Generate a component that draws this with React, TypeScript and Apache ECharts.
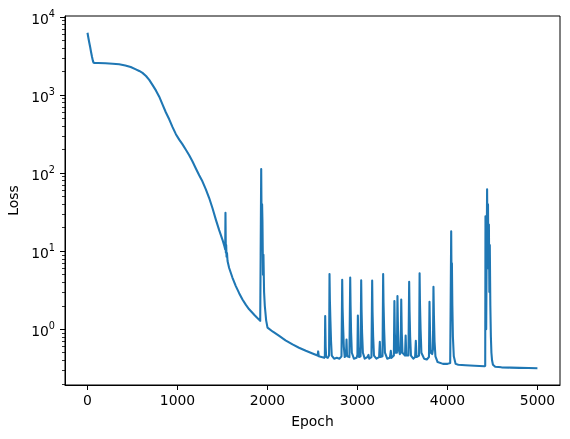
import React, { useEffect, useRef } from 'react';
import * as echarts from 'echarts';

// Loss curve, smooth descent phase (epoch / loss)
const descentEpochs = [
  0, 10, 20, 30, 40, 50, 60, 67, 80, 120, 200, 280, 352, 420, 480, 537, 575, 611, 650, 686,
  720, 760, 797, 833, 870, 908, 945, 982, 1019, 1056, 1093, 1130, 1167, 1204, 1241, 1278, 1315,
  1352, 1389, 1426, 1463, 1500, 1522, 1530, 1533, 1537, 1541, 1545, 1550, 1556, 1574, 1610,
  1648, 1685, 1722, 1760, 1796, 1860, 1919, 1930, 1935, 1940, 1944, 1950, 1955, 1962, 1970,
  1985, 2000, 2060, 2130, 2200, 2278, 2350, 2426, 2500, 2556, 2563, 2570,
];
const descentLoss = [
  6300, 5400, 4700, 4100, 3550, 3100, 2750, 2600, 2590, 2580, 2565, 2530, 2483, 2400, 2290, 2140, 2040, 1930, 1760, 1567,
  1365, 1150, 955, 760, 603, 490, 389, 316, 269, 234, 200, 170, 141, 115, 94, 78, 62,
  48, 35.5, 25.4, 18.6, 14, 11.5, 10.5, 31, 9.6, 12, 8.5, 9.5, 7.5, 6.1, 4.6,
  3.57, 2.9, 2.41, 2.05, 1.8, 1.5, 1.28, 113, 20, 40, 24, 5, 9, 3, 2,
  1.3, 1.05, 0.93, 0.82, 0.72, 0.64, 0.58, 0.53, 0.49, 0.46, 0.52, 0.45,
];

// Spiky phase
const spikeEpochs = [
  2600, 2630, 2637, 2641, 2646, 2652, 2670, 2684, 2689, 2693, 2699, 2706, 2714, 2740, 2770, 2800,
  2822, 2830, 2834, 2840, 2848, 2858, 2873, 2878, 2884, 2910, 2919, 2923, 2929, 2937, 2960, 2990,
  2999, 3004, 3010, 3018, 3034, 3041, 3045, 3051, 3060, 3080, 3110, 3122, 3130, 3155, 3163, 3167,
  3174, 3183, 3210, 3240, 3248, 3255, 3278, 3285, 3289, 3296, 3305, 3330, 3360, 3370, 3378, 3404,
  3410, 3415, 3422, 3438, 3444, 3450, 3458, 3470, 3480, 3486, 3492, 3500, 3528, 3535, 3542, 3566,
  3574, 3578, 3585, 3594, 3620, 3640, 3648, 3656, 3684, 3690, 3694, 3701, 3710, 3740, 3770, 3794,
  3800, 3806, 3814, 3830, 3838, 3844, 3849, 3856, 3866, 3890, 3950, 4000, 4030, 4041, 4045, 4049,
  4054, 4060, 4070, 4090, 4120,
];
const spikeLoss = [
  0.44, 0.43, 0.45, 1.48, 0.6, 0.44, 0.43, 0.46, 5.1, 2.4, 1.3, 0.7, 0.46, 0.42, 0.43, 0.42,
  0.45, 4.3, 1.9, 1.1, 0.6, 0.44, 0.48, 0.74, 0.45, 0.44, 4.6, 2.0, 0.9, 0.5, 0.42, 0.43,
  0.47, 1.5, 0.6, 0.44, 0.45, 4.25, 1.8, 0.9, 0.5, 0.42, 0.44, 0.47, 0.42, 0.44, 4.2, 1.7,
  0.8, 0.46, 0.42, 0.44, 0.69, 0.44, 0.45, 5.1, 2.2, 1.0, 0.5, 0.42, 0.43, 0.53, 0.43, 0.46,
  2.3, 0.9, 0.5, 0.5, 2.66, 1.0, 0.55, 0.48, 0.5, 2.4, 0.9, 0.5, 0.46, 0.83, 0.46, 0.46,
  4.06, 1.8, 0.8, 0.46, 0.42, 0.44, 0.71, 0.44, 0.46, 5.2, 2.2, 1.0, 0.5, 0.42, 0.41, 0.44,
  2.25, 0.9, 0.5, 0.48, 0.55, 3.5, 1.5, 0.7, 0.45, 0.38, 0.36, 0.36, 0.37, 18, 4, 7,
  2, 0.8, 0.45, 0.36, 0.35,
];

// Late burst and plateau
const tailEpochs = [
  4200, 4300, 4410, 4419, 4422, 4426, 4430, 4436, 4440, 4445, 4450, 4455, 4460, 4465, 4470, 4476,
  4482, 4488, 4495, 4505, 4530, 4600, 4700, 4800, 4900, 4999,
];
const tailLoss = [
  0.345, 0.34, 0.335, 0.34, 28, 3, 1.0, 15, 62, 10, 40, 6, 22, 3, 12, 2,
  0.8, 0.5, 0.4, 0.35, 0.33, 0.325, 0.322, 0.32, 0.318, 0.317,
];

const xTickValues = [0, 1000, 2000, 3000, 4000, 5000];
const yTickValues = [1, 10, 100, 1000, 10000];
const yMinorTickValues = [
  0.2, 0.3, 0.4, 0.5, 0.6, 0.7, 0.8, 0.9,
  2, 3, 4, 5, 6, 7, 8, 9,
  20, 30, 40, 50, 60, 70, 80, 90,
  200, 300, 400, 500, 600, 700, 800, 900,
  2000, 3000, 4000, 5000, 6000, 7000, 8000, 9000,
];

const FONT = 'DejaVu Sans';

export default function App() {
  const ref = useRef<HTMLDivElement>(null);
  useEffect(() => {
    const chart = echarts.init(ref.current as HTMLDivElement, null, { renderer: 'svg' });
    const epochs = [...descentEpochs, ...spikeEpochs, ...tailEpochs];
    const losses = [...descentLoss, ...spikeLoss, ...tailLoss];
    const data = epochs.map((e, i) => [e, losses[i]]);
    const yMin = 0.193;
    const yMax = 10330;
    chart.setOption({
      animation: false,
      grid: {
        left: 65, top: 16, width: 495, height: 369,
        show: true, borderColor: '#000', borderWidth: 1,
        containLabel: false, outerBoundsMode: 'none',
      },
      xAxis: {
        type: 'value', min: -250, max: 5250,
        name: 'Epoch', nameLocation: 'middle', nameGap: 29,
        nameTextStyle: { color: '#000', fontFamily: FONT, fontSize: 13.9 },
        axisLine: { show: true, onZero: false, lineStyle: { color: '#000', width: 1 } },
        axisTick: { show: true, inside: false, length: 5, customValues: xTickValues, lineStyle: { color: '#000', width: 1 } },
        axisLabel: {
          customValues: xTickValues, margin: 8, color: '#000', fontFamily: FONT, fontSize: 13.9,
          formatter: (v: number) => String(v),
        },
        splitLine: { show: false },
      },
      yAxis: [
        {
          type: 'log', logBase: 10, min: yMin, max: yMax, position: 'left',
          name: 'Loss', nameLocation: 'middle', nameGap: 43,
          nameTextStyle: { color: '#000', fontFamily: FONT, fontSize: 13.9 },
          axisLine: { show: true, onZero: false, lineStyle: { color: '#000', width: 1 } },
          axisTick: { show: true, inside: false, length: 5, customValues: yTickValues, lineStyle: { color: '#000', width: 1 } },
          axisLabel: {
            customValues: yTickValues, margin: 10, color: '#000', fontFamily: FONT,
            formatter: (v: number) => `{b|10}{s|${Math.round(Math.log10(v))}}`,
            rich: {
              b: { fontSize: 13.9, fontFamily: FONT, color: '#000', verticalAlign: 'bottom', lineHeight: 17 },
              s: { fontSize: 9.7, fontFamily: FONT, color: '#000', verticalAlign: 'top', lineHeight: 11 },
            },
          },
          splitLine: { show: false },
        },
        {
          type: 'log', logBase: 10, min: yMin, max: yMax, position: 'left',
          axisLine: { show: false, onZero: false },
          axisTick: { show: true, inside: false, length: 3, customValues: yMinorTickValues, lineStyle: { color: '#000', width: 0.8 } },
          axisLabel: { show: false },
          splitLine: { show: false },
        },
      ],
      series: [
        {
          type: 'line', data, yAxisIndex: 0, showSymbol: false, symbol: 'none',
          lineStyle: { color: '#1f77b4', width: 2.08, join: 'round' },
        },
      ],
    });
    return () => chart.dispose();
  }, []);
  return <div ref={ref} style={{ position: 'fixed', left: 0, top: 0, width: 570, height: 439 }} />;
}
